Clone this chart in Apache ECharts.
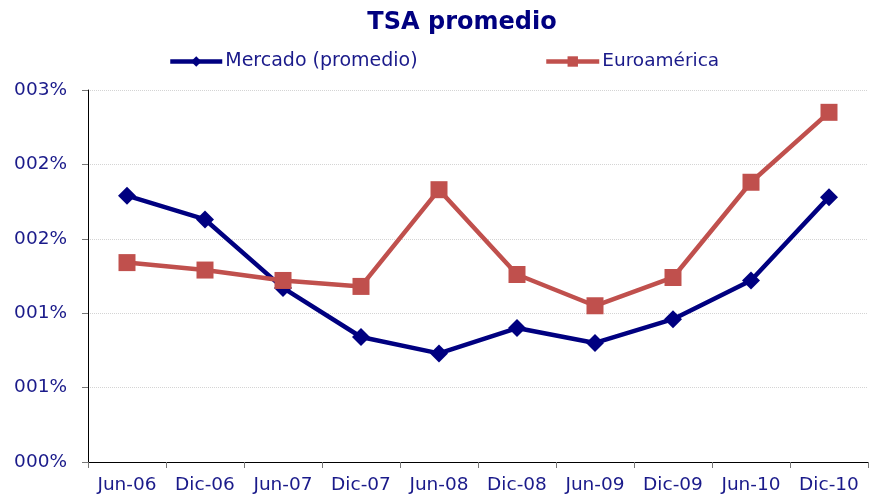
<!DOCTYPE html>
<html><head><meta charset="utf-8">
<script src="https://cdn.jsdelivr.net/npm/echarts@6/dist/echarts.min.js"></script>
<style>html,body{margin:0;padding:0;background:#fff}#c{width:870px;height:500px}</style>
</head><body><div id="c"></div>
<script>
const categories = ['Jun-06','Dic-06','Jun-07','Dic-07','Jun-08','Dic-08','Jun-09','Dic-09','Jun-10','Dic-10'];
const mercado = [1.79, 1.63, 1.17, 0.84, 0.73, 0.90, 0.80, 0.96, 1.22, 1.78];
const euroamerica = [1.34, 1.29, 1.22, 1.18, 1.83, 1.26, 1.05, 1.24, 1.88, 2.35];
const tickLabels = ['000%','001%','001%','002%','002%','003%'];
const seriesNames = ['Mercado (promedio)','Euroamérica'];

const navy = '#000080';
const txt = '#1a1a8a';
const font = 'DejaVu Sans';
const chart = echarts.init(document.getElementById('c'), null, {renderer:'canvas'});
chart.setOption({
  animation:false,
  title:{text:'TSA promedio', left:457, top:6, textAlign:'center',
    textStyle:{fontFamily:font, fontSize:24, fontWeight:'bold', color:navy}},
  legend:[
    {data:[seriesNames[0]], left:163, top:47, itemWidth:52, itemHeight:13, itemGap:3,
     lineStyle:{width:4.5}, textStyle:{fontFamily:font, fontSize:19, color:txt, padding:[0,0,0,-2]}},
    {data:[seriesNames[1]], left:539, top:47, itemWidth:53, itemHeight:13, itemGap:3,
     lineStyle:{width:4.5}, textStyle:{fontFamily:font, fontSize:18.5, color:txt, padding:[0,0,0,-2]}}
  ],
  grid:{left:88, right:2, top:90, bottom:38, containLabel:false},
  xAxis:{type:'category', data:categories, boundaryGap:true,
    axisLine:{lineStyle:{color:'#000', width:1}},
    axisTick:{show:true, length:6, lineStyle:{color:'#777'}},
    axisLabel:{fontFamily:font, fontSize:18.5, color:txt, margin:14}},
  yAxis:{type:'value', min:0, max:2.5, interval:0.5,
    axisLine:{show:true, lineStyle:{color:'#000', width:1}},
    axisTick:{show:true, length:6, lineStyle:{color:'#777'}},
    splitLine:{lineStyle:{color:'#d4d4d4', type:'dotted'}},
    axisLabel:{fontFamily:font, fontSize:18.5, color:txt, margin:21,
      formatter:(v)=>tickLabels[Math.round(v/0.5)]}},
  series:[
    {name:seriesNames[0], type:'line', data:mercado, symbol:'diamond', symbolSize:18,
     lineStyle:{color:navy, width:4.5}, itemStyle:{color:navy}},
    {name:seriesNames[1], type:'line', data:euroamerica, symbol:'rect', symbolSize:17,
     lineStyle:{color:'#C0504D', width:4.5}, itemStyle:{color:'#C0504D'}}
  ]
});
</script></body></html>
